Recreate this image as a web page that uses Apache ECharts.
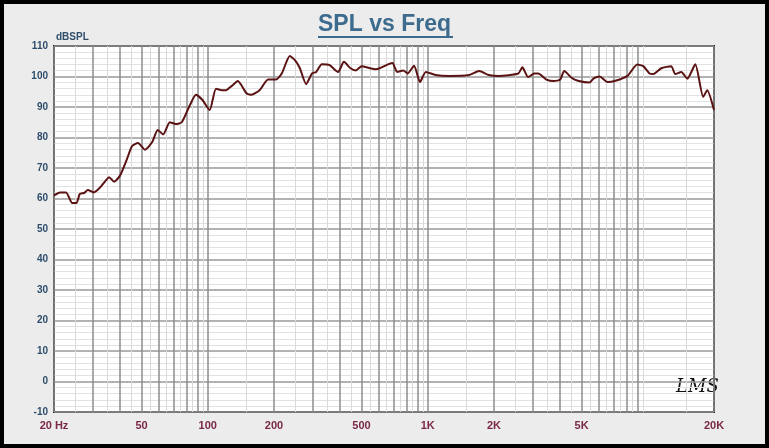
<!DOCTYPE html>
<html>
<head>
<meta charset="utf-8">
<script src="https://cdn.jsdelivr.net/npm/echarts@6/dist/echarts.min.js"></script>
<style>
  html, body { margin: 0; padding: 0; }
  #chart { width: 769px; height: 448px; box-sizing: border-box; border: 4px solid #000; background: #ececec; }
</style>
</head>
<body>
<div id="chart"></div>
<script>
// frequency response
var freqs = [20, 21.3, 22.7, 24.2, 25.3, 26.2, 27.4, 28.5, 30.3, 32.3, 34.5, 35.6, 37.5, 39.9, 42.7, 45.3, 48.2,
    51.8, 55.9, 59.2, 62.7, 67.2, 71.6, 76.2, 82.8, 88.4, 94.6, 102, 109, 116, 121, 129, 137, 150, 158, 172, 188,
    204, 217, 236, 249, 262, 280, 298, 311, 330, 358, 391, 416, 444, 471, 501, 547, 580, 604, 690, 726, 774, 810,
    866, 922, 980, 1085, 1253, 1543, 1710, 1895, 2100, 2580, 2690, 2860, 3050, 3180, 3460, 3750, 4000, 4170, 4520,
    4810, 5430, 5660, 6040, 6560, 7130, 8080, 8960, 9540, 10180, 10600, 11520, 12780, 13330, 14200, 15130, 16440,
    17860, 18630, 20000];
var spl = [61, 62, 62, 58.5, 58.5, 61.5, 61.8, 62.8, 62, 63.5, 66, 67, 65.5, 67.5, 72.5, 77.2, 78.2,
    76, 78.5, 82.5, 81, 85, 84.4, 85, 90.5, 94, 92.3, 89, 96, 95.5, 95.5, 97, 98.5, 94.5, 94, 95.5, 99,
    99, 101, 106.7, 105.4, 102.8, 97.5, 101, 101.5, 104, 103.7, 101.5, 104.8, 102.8, 102, 103.4, 102.7, 102.4, 102.7, 104.4, 101.5, 102, 101,
    103.5, 98.2, 101.5, 100.5, 100.2, 100.5, 101.8, 100.5, 100.2, 101, 103, 99.8, 101, 101, 99, 98.5, 99, 101.8, 99.5,
    98.6, 98, 99.3, 100, 98.2, 98.6, 100.2, 103.9, 103.4, 101, 100.8, 102.7, 103.4, 100.8, 101.5, 99.3, 104,
    93.3, 95.5, 89];
var xTickValues = [20, 50, 100, 200, 500, 1000, 2000, 5000, 10000, 20000];
var xTickLabels = ['20 Hz', '50', '100', '200', '500', '1K', '2K', '5K', '10K', '20K'];

var lines = [];
[10, 100, 1000].forEach(function (dec) {
    for (var k = 1; k <= 9; k++) {
        var major = dec * k;
        if (major >= 20 && major <= 20000) lines.push({ v: major, major: true });
        var minor = dec * (k + 0.5);
        if (minor > 20 && minor < 20000) lines.push({ v: minor, major: false });
    }
});
lines.push({ v: 10000 * 1.5, major: false });
lines.push({ v: 20000, major: true });

var markData = lines.map(function (l) {
    var idx = xTickValues.indexOf(l.v);
    return {
        xAxis: l.v,
        lineStyle: { color: l.major ? '#8c8c8c' : '#dadada', width: l.major ? 1.5 : 1, type: 'solid' },
        label: idx >= 0 ? {
            show: true, position: 'start', distance: 8, formatter: xTickLabels[idx],
            color: '#7a2848', fontSize: 11, fontWeight: 'bold', fontFamily: 'Liberation Sans Narrow, Liberation Sans'
        } : { show: false }
    };
});

var chart = echarts.init(document.getElementById('chart'));
chart.setOption({
    animation: false,
    title: {
        text: 'SPL vs Freq', left: 'center', top: 4,
        textStyle: { color: '#3d6b8e', fontSize: 23, fontWeight: 'bold', fontFamily: 'Liberation Sans' }
    },
    graphic: [
        { type: 'line', shape: { x1: 314, y1: 33, x2: 449, y2: 33 }, style: { stroke: '#3d6b8e', lineWidth: 2 } },
        { type: 'text', left: 52, top: 28, style: { text: 'dBSPL', fill: '#2e4d6b', font: 'bold 10px Liberation Sans' } },
        { type: 'text', left: 672, top: 374, style: { text: 'LMS', fill: '#111', font: 'italic 18px DejaVu Serif' } }
    ],
    grid: { left: 50, right: 51, top: 42, bottom: 32, show: true, backgroundColor: '#fff', borderColor: '#222', borderWidth: 2 },
    xAxis: {
        type: 'log', logBase: 10, min: 20, max: 20000,
        axisLabel: { show: false }, axisTick: { show: false }, axisLine: { show: false },
        splitLine: { show: false }
    },
    yAxis: {
        type: 'value', min: -10, max: 110, interval: 10,
        axisLabel: { color: '#2e4d6b', fontSize: 10, fontWeight: 'bold', fontFamily: 'Liberation Sans', margin: 6 },
        axisTick: { show: false }, axisLine: { show: false },
        splitLine: { lineStyle: { color: '#999', width: 1.5 } },
        minorTick: { show: false, splitNumber: 5 },
        minorSplitLine: { show: true, lineStyle: { color: '#e2e2e2', width: 1 } }
    },
    series: [{
        type: 'line',
        data: freqs.map(function (f, i) { return [f, spl[i]]; }),
        symbol: 'none', smooth: 0.2,
        lineStyle: { color: '#5a1212', width: 2 },
        z: 5,
        markLine: { silent: true, symbol: 'none', data: markData, z: 1 }
    }]
});
</script>
</body>
</html>
